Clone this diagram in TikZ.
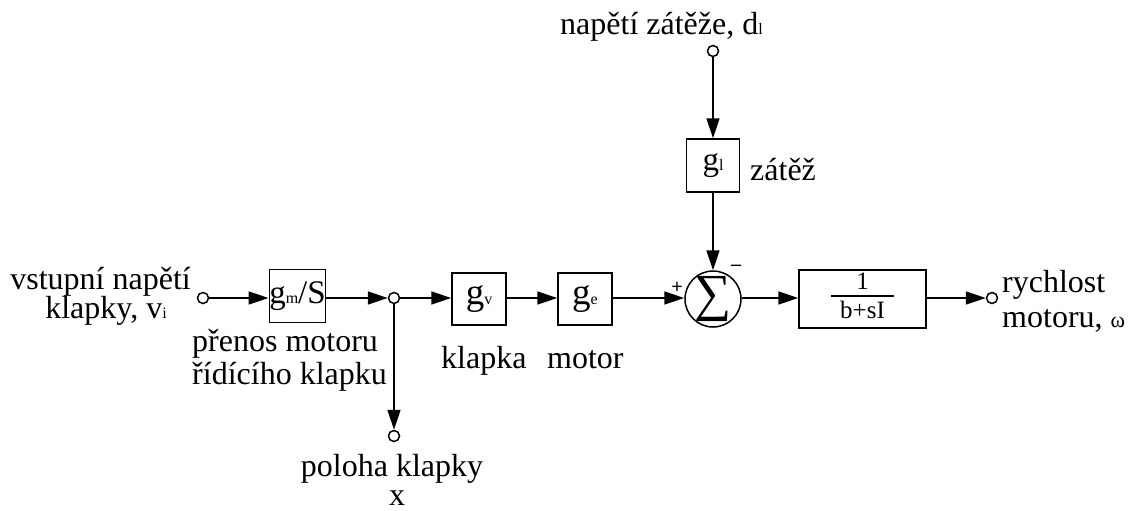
\documentclass[tikz,border=0pt]{standalone}
\usepackage{fontspec}
\setmainfont{Liberation Serif}
\usetikzlibrary{arrows.meta}
\newcommand{\subsc}[1]{{\fontsize{16}{16}\selectfont #1}}
\tikzset{
  blk/.style={draw, line width=1.5pt, minimum width=53pt, minimum height=53pt, inner sep=0pt, font=\fontsize{37}{37}\selectfont},
  term/.style={circle, draw, fill=white, line width=1.5pt, minimum size=11pt, inner sep=0pt},
  arr/.style={line width=1.5pt, -{Triangle[length=20pt,width=13pt]}},
  lbl/.style={inner sep=0pt, font=\fontsize{32}{34}\selectfont},
  sgn/.style={inner sep=0pt, font=\fontsize{20}{20}\selectfont\bfseries}
}
\begin{document}
\begin{tikzpicture}[x=1pt,y=-1pt]
\useasboundingbox (0,0) rectangle (1133,511);
% blocks
\node[term] (in) at (203,298) {};
\node[blk, font=\fontsize{33}{33}\selectfont] (gm) at (297.5,296) {g\subsc{m}/S};
\node[term] (br) at (394,298) {};
\node[blk, minimum width=54pt, minimum height=52pt] (gv) at (479,299) {g\subsc{v}};
\node[blk, minimum width=54pt, minimum height=52pt] (ge) at (585,299) {g\subsc{e}};
\node[circle, draw, line width=1.5pt, minimum size=56pt, inner sep=0pt] (sum) at (713,299) {};
\node[inner sep=0pt, font=\fontsize{52}{52}\selectfont] (sigma) at (sum.center) {∑};
\node[term] (top) at (713,51) {};
\node[blk, font=\fontsize{33}{33}\selectfont] (gl) at (713,165.5) {g\subsc{l}};
\node[draw, line width=1.5pt, minimum width=127pt, minimum height=58pt, inner sep=0pt, font=\fontsize{25}{27}\selectfont] (tf) at (862.5,299)
  {\setlength{\arrayrulewidth}{2pt}\begin{tabular}{@{\hspace{9pt}}c@{\hspace{9pt}}}1\\[-3pt]\hline\rule{0pt}{22pt}b+sI\end{tabular}};
\node[term] (out) at (992,298) {};
\node[term] (bot) at (394,436) {};
% connectors
\draw[arr] (in) -- (in -| gm.west);
\draw[arr] (gm.east |- br) -- (br);
\draw[arr] (br) -- (br -| gv.west);
\draw[arr] (gv.east |- br) -- (br -| ge.west);
\draw[arr] (ge.east |- br) -- (br -| sum.west);
\draw[arr] (top) -- (gl);
\draw[arr] (gl) -- (sum);
\draw[arr] (sum.east |- br) -- (br -| tf.west);
\draw[arr] (tf.east |- br) -- (out);
\draw[arr] (br) -- (bot);
% signs
\node[sgn] (plus) at (677,288) {+};
\node[sgn] (minus) at (736,268) {–};
% labels
\node[lbl, anchor=base east] (l1) at (191,289) {vstupní napětí};
\node[lbl, anchor=base] (l2) at (106,318) {klapky, v\subsc{i}};
\node[lbl, anchor=base west] (l3) at (192,351) {přenos motoru};
\node[lbl, anchor=base west] (l4) at (192,384) {řídícího klapku};
\node[lbl, anchor=base west] (l5) at (441,368) {klapka};
\node[lbl, anchor=base west] (l6) at (547,368) {motor};
\node[lbl, anchor=base west] (l7) at (750,180) {zátěž};
\node[lbl, anchor=base west] (l8) at (560,35) {napětí zátěže, d\subsc{l}};
\node[lbl, anchor=base west] (l9) at (1002,292) {rychlost};
\node[lbl, anchor=base west] (l10) at (1002,327) {motoru, {\fontsize{22}{22}\selectfont ω}};
\node[lbl, anchor=base] (l11) at (392,476) {poloha klapky};
\node[lbl, anchor=base] (l12) at (397,505) {x};
\end{tikzpicture}
\end{document}
